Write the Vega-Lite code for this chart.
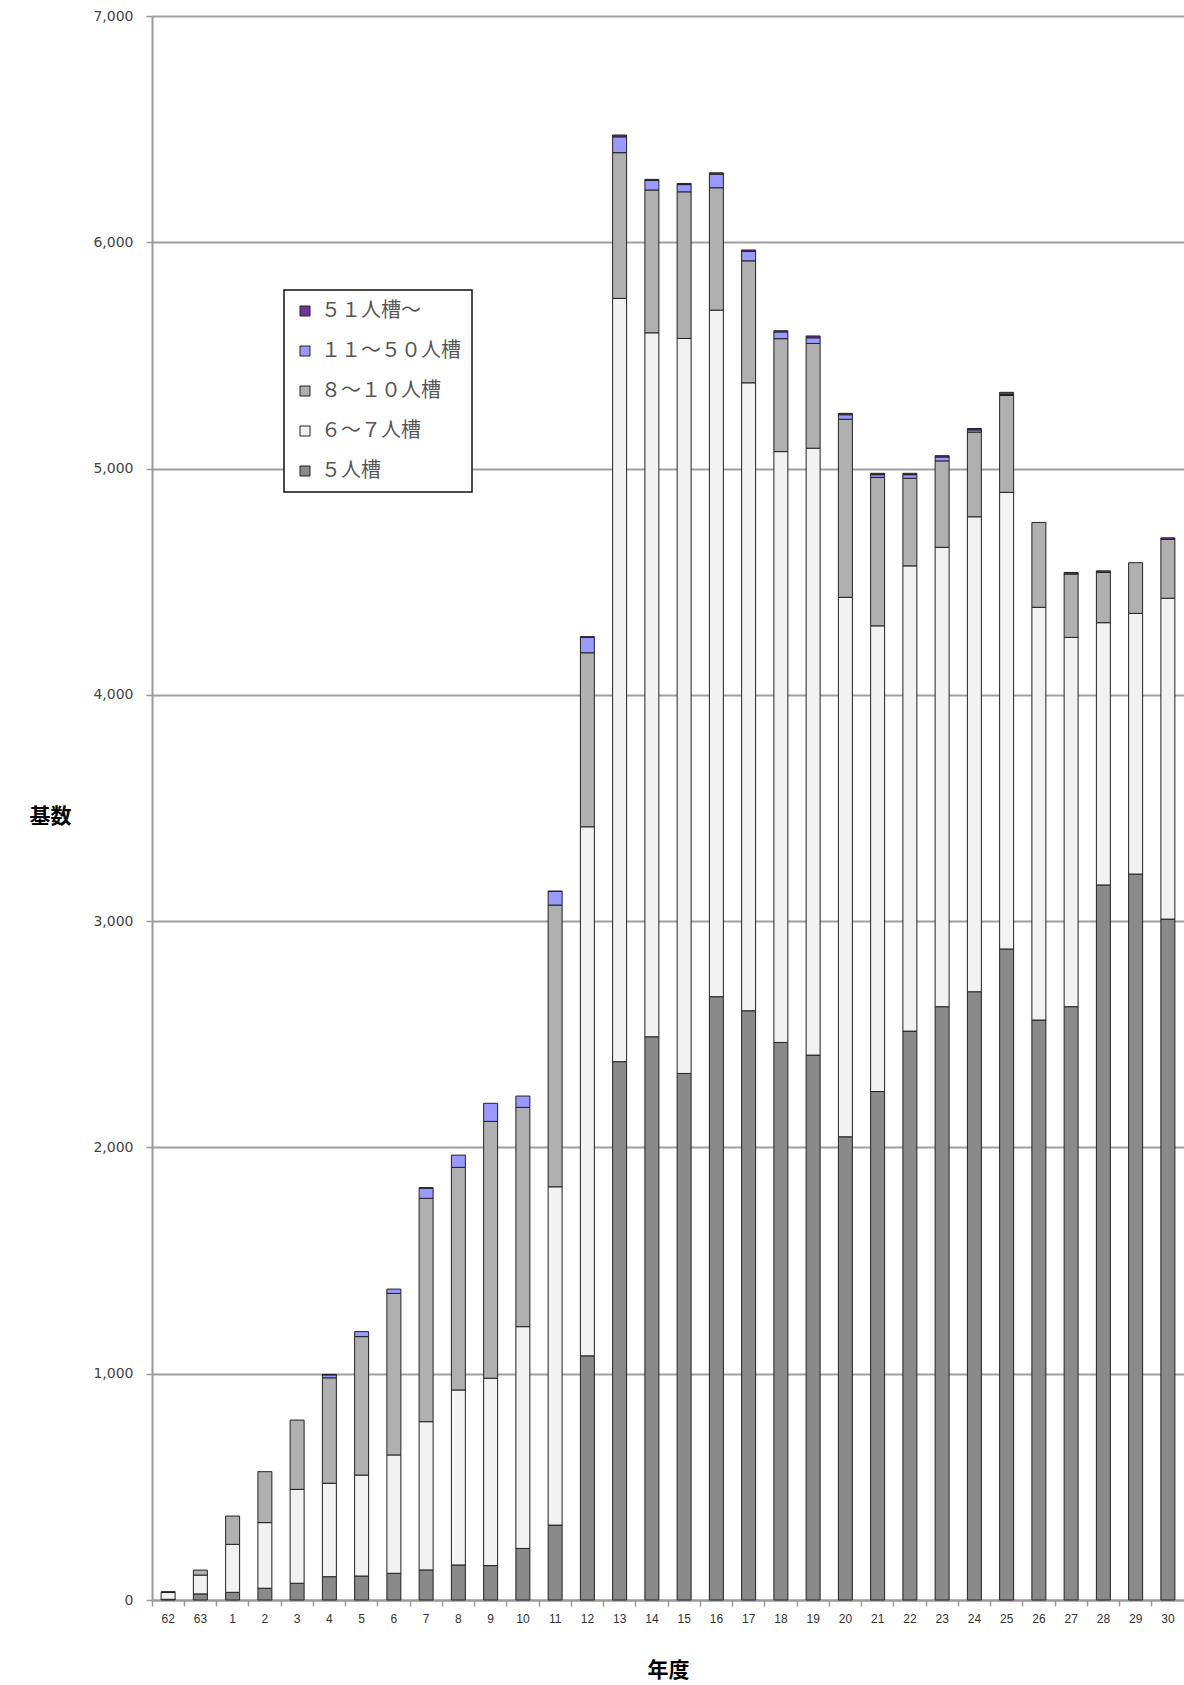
{
  "$schema": "https://vega.github.io/schema/vega-lite/v6.json",
  "width": 1032,
  "height": 1584,
  "autosize": {"type": "none"},
  "padding": {"left": 152, "top": 16, "right": 0, "bottom": 85},
  "background": "white",
  "config": {"view": {"stroke": null}, "font": "Noto Sans CJK JP"},
  "data": {
    "values": [
      {"year": "62", "５人槽": 3, "６～７人槽": 30, "８～１０人槽": 4, "１１～５０人槽": 0, "５１人槽～": 0},
      {"year": "63", "５人槽": 27, "６～７人槽": 83, "８～１０人槽": 22, "１１～５０人槽": 0, "５１人槽～": 0},
      {"year": "1", "５人槽": 34, "６～７人槽": 212, "８～１０人槽": 125, "１１～５０人槽": 0, "５１人槽～": 0},
      {"year": "2", "５人槽": 52, "６～７人槽": 290, "８～１０人槽": 225, "１１～５０人槽": 0, "５１人槽～": 0},
      {"year": "3", "５人槽": 74, "６～７人槽": 415, "８～１０人槽": 306, "１１～５０人槽": 0, "５１人槽～": 0},
      {"year": "4", "５人槽": 103, "６～７人槽": 413, "８～１０人槽": 466, "１１～５０人槽": 13, "５１人槽～": 2},
      {"year": "5", "５人槽": 106, "６～７人槽": 446, "８～１０人槽": 612, "１１～５０人槽": 22, "５１人槽～": 0},
      {"year": "6", "５人槽": 118, "６～７人槽": 523, "８～１０人槽": 714, "１１～５０人槽": 19, "５１人槽～": 0},
      {"year": "7", "５人槽": 133, "６～７人槽": 655, "８～１０人槽": 987, "１１～５０人槽": 45, "５１人槽～": 2},
      {"year": "8", "５人槽": 155, "６～７人槽": 773, "８～１０人槽": 984, "１１～５０人槽": 54, "５１人槽～": 0},
      {"year": "9", "５人槽": 152, "６～７人槽": 828, "８～１０人槽": 1135, "１１～５０人槽": 80, "５１人槽～": 0},
      {"year": "10", "５人槽": 228, "６～７人槽": 980, "８～１０人槽": 969, "１１～５０人槽": 50, "５１人槽～": 0},
      {"year": "11", "５人槽": 331, "６～７人槽": 1495, "８～１０人槽": 1245, "１１～５０人槽": 60, "５１人槽～": 2},
      {"year": "12", "５人槽": 1079, "６～７人槽": 2338, "８～１０人槽": 769, "１１～５０人槽": 68, "５１人槽～": 3},
      {"year": "13", "５人槽": 2379, "６～７人槽": 3373, "８～１０人槽": 644, "１１～５０人槽": 70, "５１人槽～": 8},
      {"year": "14", "５人槽": 2489, "６～７人槽": 3111, "８～１０人槽": 631, "１１～５０人槽": 42, "５１人槽～": 5},
      {"year": "15", "５人槽": 2327, "６～７人槽": 3248, "８～１０人槽": 648, "１１～５０人槽": 32, "５１人槽～": 5},
      {"year": "16", "５人槽": 2666, "６～７人槽": 3034, "８～１０人槽": 541, "１１～５０人槽": 60, "５１人槽～": 6},
      {"year": "17", "５人槽": 2604, "６～７人槽": 2775, "８～１０人槽": 539, "１１～５０人槽": 42, "５１人槽～": 6},
      {"year": "18", "５人槽": 2464, "６～７人槽": 2611, "８～１０人槽": 499, "１１～５０人槽": 30, "５１人槽～": 5},
      {"year": "19", "５人槽": 2408, "６～７人槽": 2682, "８～１０人槽": 463, "１１～５０人槽": 25, "５１人槽～": 8},
      {"year": "20", "５人槽": 2047, "６～７人槽": 2384, "８～１０人槽": 787, "１１～５０人槽": 20, "５１人槽～": 6},
      {"year": "21", "５人槽": 2247, "６～７人槽": 2058, "８～１０人槽": 656, "１１～５０人槽": 12, "５１人槽～": 6},
      {"year": "22", "５人槽": 2514, "６～７人槽": 2056, "８～１０人槽": 387, "１１～５０人槽": 16, "５１人槽～": 6},
      {"year": "23", "５人槽": 2622, "６～７人槽": 2030, "８～１０人槽": 382, "１１～５０人槽": 17, "５１人槽～": 6},
      {"year": "24", "５人槽": 2688, "６～７人槽": 2099, "８～１０人槽": 374, "１１～５０人槽": 10, "５１人槽～": 6},
      {"year": "25", "５人槽": 2877, "６～７人槽": 2018, "８～１０人槽": 428, "１１～５０人槽": 4, "５１人槽～": 10},
      {"year": "26", "５人槽": 2563, "６～７人槽": 1824, "８～１０人槽": 375, "１１～５０人槽": 0, "５１人槽～": 0},
      {"year": "27", "５人槽": 2622, "６～７人槽": 1632, "８～１０人槽": 280, "１１～５０人槽": 0, "５１人槽～": 7},
      {"year": "28", "５人槽": 3160, "６～７人槽": 1159, "８～１０人槽": 222, "１１～５０人槽": 0, "５１人槽～": 7},
      {"year": "29", "５人槽": 3208, "６～７人槽": 1152, "８～１０人槽": 224, "１１～５０人槽": 0, "５１人槽～": 0},
      {"year": "30", "５人槽": 3009, "６～７人槽": 1418, "８～１０人槽": 260, "１１～５０人槽": 0, "５１人槽～": 7}
    ]
  },
  "transform": [
    {"fold": ["５人槽", "６～７人槽", "８～１０人槽", "１１～５０人槽", "５１人槽～"], "as": ["type", "count"]},
    {"filter": "datum.count > 0"},
    {
      "lookup": "type",
      "from": {
        "data": {
          "values": [
            {"type": "５人槽", "rank": 1},
            {"type": "６～７人槽", "rank": 2},
            {"type": "８～１０人槽", "rank": 3},
            {"type": "１１～５０人槽", "rank": 4},
            {"type": "５１人槽～", "rank": 5}
          ]
        },
        "key": "type",
        "fields": ["rank"]
      }
    }
  ],
  "mark": {"type": "bar", "width": {"band": 0.434}, "stroke": "#222222", "strokeWidth": 1},
  "encoding": {
    "x": {
      "field": "year",
      "type": "nominal",
      "scale": {
        "domain": ["62", "63", "1", "2", "3", "4", "5", "6", "7", "8", "9", "10", "11", "12", "13", "14", "15", "16", "17", "18", "19", "20", "21", "22", "23", "24", "25", "26", "27", "28", "29", "30"],
        "paddingInner": 0,
        "paddingOuter": 0
      },
      "axis": {
        "title": "年度",
        "labelAngle": 0,
        "bandPosition": 0,
        "ticks": true,
        "tickSize": 6,
        "tickColor": "#999999",
        "tickWidth": 1.5,
        "domainColor": "#999999",
        "domainWidth": 2,
        "grid": false,
        "labelFont": "Liberation Sans",
        "labelFontSize": 12,
        "labelColor": "#333333",
        "labelPadding": 7,
        "titleFont": "Noto Sans CJK JP",
        "titleFontSize": 21,
        "titleFontWeight": "bold",
        "titleColor": "#000000",
        "titleY": 70,
        "titleBaseline": "middle"
      }
    },
    "y": {
      "field": "count",
      "type": "quantitative",
      "stack": "zero",
      "scale": {"domain": [0, 7000], "nice": false},
      "axis": {
        "title": "基数",
        "values": [0, 1000, 2000, 3000, 4000, 5000, 6000, 7000],
        "format": ",d",
        "grid": true,
        "gridColor": "#a0a0a0",
        "gridWidth": 2,
        "domainColor": "#999999",
        "domainWidth": 2,
        "tickColor": "#999999",
        "tickSize": 6,
        "tickWidth": 1.5,
        "labelFont": "DejaVu Sans",
        "labelFontSize": 14,
        "labelColor": "#444444",
        "labelPadding": 13,
        "titleFont": "Noto Sans CJK JP",
        "titleFontSize": 21,
        "titleFontWeight": "bold",
        "titleColor": "#000000",
        "titleAngle": 0,
        "titleX": -102,
        "titleY": 800,
        "titleAlign": "center",
        "titleBaseline": "middle"
      }
    },
    "order": {"field": "rank", "type": "quantitative", "sort": "ascending"},
    "color": {
      "field": "type",
      "type": "nominal",
      "scale": {
        "domain": ["５１人槽～", "１１～５０人槽", "８～１０人槽", "６～７人槽", "５人槽"],
        "range": ["#7030a0", "#9999ff", "#b0b0b0", "#f2f2f2", "#8a8a8a"]
      },
      "legend": {
        "title": null,
        "orient": "none",
        "legendX": 132,
        "legendY": 274,
        "symbolType": "square",
        "symbolSize": 100,
        "symbolStrokeColor": "#222222",
        "symbolStrokeWidth": 1,
        "labelFont": "Noto Sans CJK JP",
        "labelFontSize": 20,
        "labelColor": "#555555",
        "labelOffset": 6,
        "rowPadding": 20,
        "padding": 11,
        "strokeColor": "#111111",
        "fillColor": "#ffffff",
        "encode": {"legend": {"update": {"strokeWidth": {"value": 1.5}}}}
      }
    }
  }
}
